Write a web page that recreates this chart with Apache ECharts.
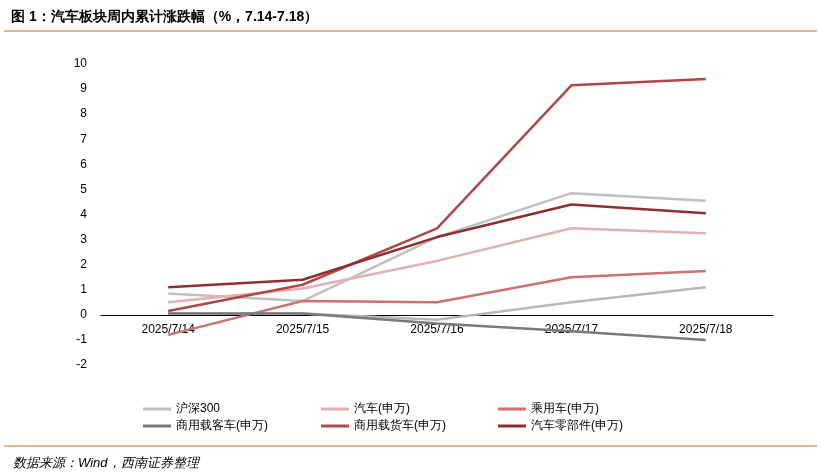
<!DOCTYPE html><html><head><meta charset="utf-8"><script src="https://cdn.jsdelivr.net/npm/echarts@6/dist/echarts.min.js"></script>
<style>body{margin:0}#c{width:821px;height:475px}</style></head><body><div id="c"></div><script>
const categories=['2025/7/14','2025/7/15','2025/7/16','2025/7/17','2025/7/18'];
const names=['沪深300','汽车(申万)','乘用车(申万)','商用载客车(申万)','商用载货车(申万)','汽车零部件(申万)'];
const hs300=[0.85,0.55,3.1,4.85,4.55];
const auto=[0.5,1.05,2.15,3.45,3.25];
const passenger=[-0.8,0.55,0.5,1.5,1.75];
const bus=[0.05,0.05,-0.35,-0.65,-1.0];
const truck=[0.15,1.2,3.45,9.15,9.4];
const parts=[1.1,1.4,3.1,4.4,4.05];
const other=[0.05,0.05,-0.2,0.5,1.1];
const yTicks=[-2,-1,0,1,2,3,4,5,6,7,8,9,10];
const colors=['#c0c0c0','#e2b0b0','#cc7272','#7a7a7a','#b04848','#8e2e2e'];
const data=[hs300,auto,passenger,bus,truck,parts];
const series=data.map((d,i)=>({name:names[i],type:'line',data:d,symbol:'none',lineStyle:{width:2.5,color:colors[i]},itemStyle:{color:colors[i]},z:3}));
series.push({name:'其他',type:'line',data:other,symbol:'none',lineStyle:{width:2.5,color:'#b8b8b8'},z:2});
const pos=[[138,398],[316,398],[493,398],[138,415],[316,415],[493,415]];
const legends=names.map((n,i)=>({data:[n],left:pos[i][0],top:pos[i][1],itemWidth:28,itemHeight:3,icon:'rect',itemGap:4,textStyle:{fontSize:12,color:'#000'}}));
const chart=echarts.init(document.getElementById('c'));
chart.setOption({animation:false,backgroundColor:'#fff',
title:[{text:'图 1：汽车板块周内累计涨跌幅（%，7.14-7.18）',left:6,top:5,textStyle:{fontSize:14,fontWeight:'bold',color:'#000'}},
{text:'数据来源：Wind，西南证券整理',left:8,top:452,textStyle:{fontSize:13,fontStyle:'italic',fontWeight:'normal',color:'#000'}}],
graphic:[{type:'line',shape:{x1:4,y1:31,x2:817,y2:31},style:{stroke:'#d9a05a',lineWidth:1.5}},
{type:'line',shape:{x1:4,y1:446,x2:817,y2:446},style:{stroke:'#d9a05a',lineWidth:1.5}}],
legend:legends,
grid:{left:101,right:48,top:64,bottom:110},
xAxis:{type:'category',data:categories,boundaryGap:true,offset:-50,axisLine:{onZero:false,lineStyle:{color:'#000',width:1}},axisTick:{show:false},axisLabel:{color:'#000',fontSize:12,margin:9,fontFamily:'Arial'}},
yAxis:{type:'value',min:-2,max:10,interval:1,axisLine:{show:false},axisTick:{show:false},splitLine:{show:false},axisLabel:{color:'#000',fontSize:12,margin:14,fontFamily:'Arial'}},
series:series});
</script></body></html>
